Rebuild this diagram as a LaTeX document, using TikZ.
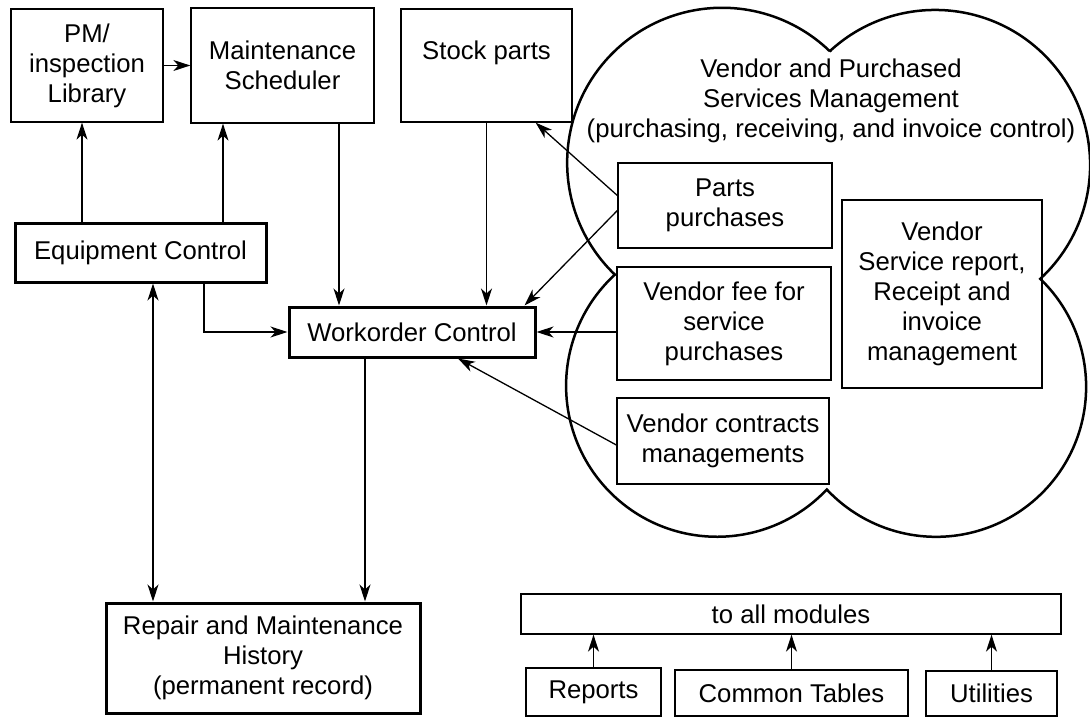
\documentclass[tikz,border=0pt]{standalone}
\usepackage{fontspec}
\setmainfont{Liberation Sans}
\usepackage{tikz}
\usetikzlibrary{arrows.meta, positioning}

\begin{document}
\begin{tikzpicture}[x=1pt, y=-1pt,
    font=\fontsize{25.7}{30}\selectfont,
    box/.style={draw, line width=1.3pt, inner sep=0pt, align=center},
    heavy/.style={box, line width=3pt},
    tip/.tip={Stealth[length=17pt, width=11pt, inset=5pt]},
    arr/.style={-tip, line width=1.3pt},
    both/.style={tip-tip, line width=1.3pt}]
    \useasboundingbox (0,0) rectangle (1090,717);

    % vendor cloud
    \draw[line width=2.5pt] (829.6,51.4)
        arc[start angle=-132.9, end angle=47.3, radius=155]
        arc[start angle=-46.05, end angle=136.8, radius=150]
        arc[start angle=43.4, end angle=227.4, radius=151]
        arc[start angle=133.8, end angle=314, radius=155] -- cycle;
    \node[align=center] (vtitle) at (831,101) {Vendor and Purchased\\Services Management\\(purchasing, receiving, and invoice control)};

    \node[box, minimum width=152pt, minimum height=113pt] (pm) at (87,65.5) {PM/\\inspection\\Library};
    \node[box, minimum width=183pt, minimum height=115pt] (sched) at (282.5,65.5) {Maintenance\\Scheduler};
    \node[box, minimum width=171pt, minimum height=113pt] (stock) at (486.5,65.5) {Stock parts\\\mbox{}};
    \node[heavy, minimum width=251pt, minimum height=59pt] (ec) at (140.5,252.5) {Equipment Control};
    \node[heavy, minimum width=246pt, minimum height=50pt] (wc) at (412,332) {Workorder Control};
    \node[heavy, minimum width=314pt, minimum height=110pt] (repair) at (263,658) {Repair and Maintenance\\History\\(permanent record)};

    \node[box, minimum width=214pt, minimum height=85pt] (parts) at (725,205.5) {Parts\\purchases};
    \node[box, minimum width=214pt, minimum height=113pt] (fee) at (724,323.5) {Vendor fee for\\service\\purchases};
    \node[box, minimum width=212pt, minimum height=86pt] (contracts) at (723,441) {Vendor contracts\\managements};
    \node[box, minimum width=200pt, minimum height=188pt] (vsr) at (942,294) {Vendor\\Service report,\\Receipt and\\invoice\\management};

    \node[box, minimum width=540pt, minimum height=40pt] (all) at (791,614) {to all modules};
    \node[box, minimum width=135pt, minimum height=48pt] (reports) at (593.5,692) {Reports};
    \node[box, minimum width=233pt, minimum height=46pt] (tables) at (791.5,693) {Common Tables};
    \node[box, minimum width=131pt, minimum height=45pt] (util) at (991.5,693.5) {Utilities};

    \draw[arr] (pm.east) -- (sched.west);
    \draw[arr] (82,0 |- ec.north) -- (82,0 |- pm.south);
    \draw[arr] (223,0 |- ec.north) -- (223,0 |- sched.south);
    \draw[arr] (339,0 |- sched.south) -- (339,0 |- wc.north);
    \draw[arr] (stock.south) -- (stock.south |- wc.north);
    \draw[arr] ([yshift=10pt]parts.west) -- ([xshift=-37pt]stock.south east);
    \draw[arr] ([yshift=-5pt]parts.west) -- ([xshift=-12pt]wc.north east);
    \draw[arr] (fee.west |- wc.east) -- (wc.east);
    \draw[arr] ([yshift=-4pt]contracts.west) -- ([xshift=46pt]wc.south);
    \draw[arr] (204,0 |- ec.south) |- (wc.west);
    \draw[both] (153,0 |- ec.south) -- (153,0 |- repair.north);
    \draw[arr] (365,0 |- wc.south) -- (365,0 |- repair.north);
    \foreach \m in {reports, tables, util}
        \draw[arr] (\m.north) -- (\m.north |- all.south);
\end{tikzpicture}
\end{document}
